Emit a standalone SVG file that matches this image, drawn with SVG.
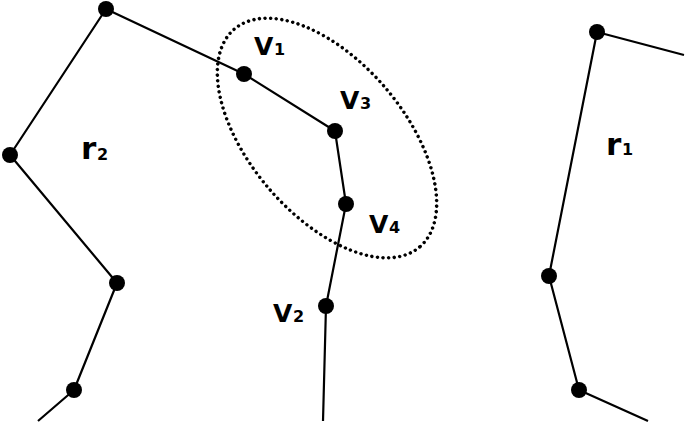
<svg xmlns="http://www.w3.org/2000/svg" width="685" height="427" viewBox="0 0 685 427">
<style>
.edge{fill:none;stroke:#000;stroke-width:2.2;stroke-linejoin:round}
.node{fill:#000}
.lbl{font-family:"DejaVu Sans",Verdana,sans-serif;font-weight:bold;fill:#000}
.big{font-size:25px}
.rr{font-size:31px}
.sub{font-size:16px}
.dots{fill:none;stroke:#000;stroke-width:3.4;stroke-dasharray:0 5.6;stroke-linecap:round}
</style>
<rect width="685" height="427" fill="#fff"/>
<g id="connectors">
<polyline class="edge" points="38,421 74,390 117,283 10,155 106,9 244,74 335,131 346,204 326,306 323,421"/>
<polyline class="edge" points="684,55 597,32 549,276 579,390 648,421"/>
</g>
<g id="group-ellipse">
<ellipse class="dots" cx="327" cy="138" rx="143" ry="77" transform="rotate(49.6 327 138)"/>
</g>
<g id="n-a"><circle class="node" cx="106" cy="9" r="8"/></g>
<g id="n-b"><circle class="node" cx="10" cy="155" r="8"/></g>
<g id="n-c"><circle class="node" cx="117" cy="283" r="8"/></g>
<g id="n-d"><circle class="node" cx="74" cy="390" r="8"/></g>
<g id="v1"><circle class="node" cx="244" cy="74" r="8"/><text class="lbl big" x="254" y="55">V<tspan class="sub" x="274">1</tspan></text></g>
<g id="v3"><circle class="node" cx="335" cy="131" r="8"/><text class="lbl big" x="340" y="109">V<tspan class="sub" x="360">3</tspan></text></g>
<g id="v4"><circle class="node" cx="346" cy="204" r="8"/><text class="lbl big" x="369" y="233">V<tspan class="sub" x="389">4</tspan></text></g>
<g id="v2"><circle class="node" cx="326" cy="306" r="8"/><text class="lbl big" x="273" y="322">V<tspan class="sub" x="293">2</tspan></text></g>
<g id="n-e"><circle class="node" cx="597" cy="32" r="8"/></g>
<g id="n-f"><circle class="node" cx="549" cy="276" r="8"/></g>
<g id="n-g"><circle class="node" cx="579" cy="390" r="8"/></g>
<g id="r2"><text class="lbl rr" x="81" y="159">r<tspan class="sub" x="97" y="160">2</tspan></text></g>
<g id="r1"><text class="lbl rr" x="606" y="155">r<tspan class="sub" x="622">1</tspan></text></g>
</svg>
